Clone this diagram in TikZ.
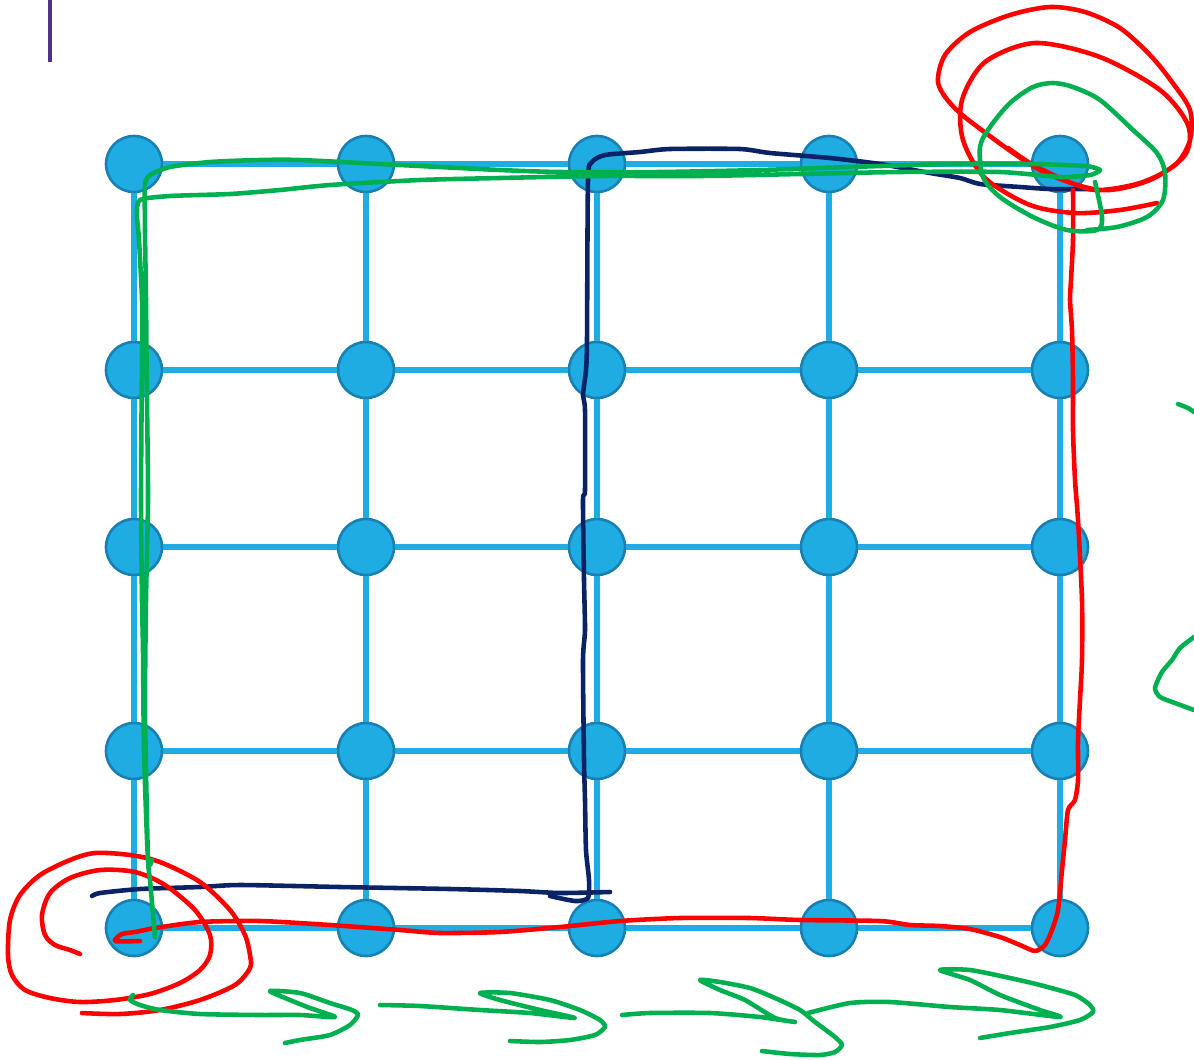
\documentclass[tikz,border=0pt]{standalone}
\definecolor{gridblue}{HTML}{1EACE2}
\definecolor{rimblue}{HTML}{1A80B4}
\definecolor{penred}{HTML}{FF0000}
\definecolor{pengreen}{HTML}{00B050}
\definecolor{pennavy}{HTML}{0A2266}
\definecolor{penpurple}{HTML}{4E3188}
\tikzset{
	dot/.style={circle, fill=gridblue, draw=rimblue, line width=1.5pt, minimum size=1.12cm, inner sep=0pt},
	edge/.style={gridblue, line width=3.7pt},
	pen/.style={line width=2.6pt, line cap=round, line join=round},
}
\begin{document}
\begin{tikzpicture}[x=0.02cm, y=-0.02cm]
\useasboundingbox (0,0) rectangle (1194,1059);
% grid of dots
\foreach \j / \y in {1/164, 2/370, 3/547, 4/751, 5/928}
{
	\foreach \i / \x in {1/134, 2/366, 3/597, 4/829, 5/1060}
	{
		\node[dot] (n\i\j) at (\x, \y) {};
	}
}
\foreach \j in {1,...,5}
{
	\foreach \i / \k in {1/2, 2/3, 3/4, 4/5}
	{
		\draw[edge] (n\i\j) -- (n\k\j);
		\draw[edge] (n\j\i) -- (n\j\k);
	}
}
% purple mark
\draw[penpurple, line width=2.4pt] (50,0) -- (50,62);
% navy stroke
\draw[pen, pennavy] plot[smooth, tension=0.4] coordinates {(92,896) (100,893) (140,889) (200,887) (240,885) (340,887) (450,889) (520,891) (560,893) (610,892)};
\draw[pen, pennavy] plot[smooth, tension=0.4] coordinates {(550,896) (575,901) (588,898) (589,880) (586,850) (585,800) (584,760) (583,660) (585,630) (584,580) (583,500) (585,490) (585,410) (583,395) (586,370) (587,340) (588,180) (592,162) (605,155) (640,152) (670,149) (740,149) (770,153) (830,158) (880,164) (930,173) (960,178) (980,184) (1020,187) (1050,189) (1090,189)};
% red strokes
\draw[pen, penred] plot[smooth, tension=0.5] coordinates {(80,954) (70,950) (55,945) (45,935) (42,915) (50,893) (70,878) (100,870) (135,872) (165,885) (195,910) (210,935) (210,955) (200,970) (180,983) (150,994) (115,1000) (80,1002) (50,998) (25,990) (12,975) (8,955) (10,920) (20,895) (40,875) (70,860) (95,853) (130,855) (160,862) (200,882) (230,910) (245,935) (250,955) (250,968) (235,985) (200,1000) (160,1010) (120,1014) (82,1013)};
\draw[pen, penred] plot[smooth, tension=0.4] coordinates {(140,941) (115,941) (122,934) (135,932) (155,928) (200,922) (260,921) (330,925) (400,930) (440,933) (500,932) (560,927) (620,921) (680,918) (750,918) (800,920) (880,921) (910,925) (940,926) (970,929) (1000,937) (1020,945) (1035,951) (1045,945) (1052,930) (1058,910) (1062,870) (1065,840) (1068,810) (1075,800) (1078,780) (1078,740) (1080,700) (1082,660) (1082,600) (1078,520) (1075,480) (1073,430) (1073,380) (1072,330) (1070,300) (1071,280) (1073,240) (1073,190)};
\draw[pen, penred] plot[smooth, tension=0.5] coordinates {(1008,148) (1030,163) (1060,178) (1095,190) (1140,183) (1175,165) (1190,140) (1190,110) (1172,82) (1150,55) (1120,28) (1085,12) (1050,7) (1010,15) (970,32) (945,55) (938,82) (950,103) (975,125) (1040,170) (1100,190) (1150,180) (1185,155) (1188,125) (1160,90) (1100,57) (1035,43) (985,62) (962,100) (963,140) (985,178) (1030,205) (1075,213) (1120,210) (1157,203)};
% green strokes
\draw[pen, pengreen] plot[smooth, tension=0.4] coordinates {(155,937) (150,880) (148,860) (146,770) (145,700) (146,600) (148,500) (147,400) (146,300) (145,230) (145,185) (150,175) (170,167) (210,162) (260,160) (300,160) (400,165) (500,170) (560,172) (660,172) (760,170) (850,167) (950,164) (1030,164) (1085,166) (1100,170) (1090,175) (1060,177) (1000,172) (900,172) (800,174) (700,176) (600,176) (500,178) (420,180) (330,185) (280,190) (230,194) (170,196) (140,200) (137,215) (139,240) (142,300) (142,350) (141,500) (142,600) (143,650) (144,750) (148,860) (152,860)};
\draw[pen, pengreen] plot[smooth, tension=0.5] coordinates {(1095,182) (1102,217) (1097,230) (1067,230) (1033,217) (1000,197) (983,177) (980,147) (990,127) (1010,103) (1033,87) (1053,83) (1073,87) (1100,100) (1133,130) (1157,153) (1165,173) (1163,200) (1147,217) (1117,227) (1087,230)};
\draw[pen, pengreen] plot[smooth, tension=0.4] coordinates {(133,995) (130,1000) (140,1005) (160,1010) (200,1014) (260,1015) (300,1015) (335,1017) (310,1008) (290,1000) (270,991) (300,993) (330,1003) (352,1010) (358,1015) (350,1025) (330,1035) (300,1040) (285,1043)};
\draw[pen, pengreen] plot[smooth, tension=0.4] coordinates {(380,1005) (420,1006) (480,1010) (530,1013) (575,1018) (540,1010) (500,1000) (480,993) (510,993) (550,1000) (580,1010) (600,1020) (605,1027) (595,1035) (570,1040) (540,1042) (510,1041)};
\draw[pen, pengreen] plot[smooth, tension=0.4] coordinates {(622,1015) (650,1013) (710,1013) (760,1017) (795,1022) (775,1018) (745,1000) (720,990) (700,980) (720,982) (750,988) (775,998) (800,1010) (815,1022) (835,1037) (842,1045) (835,1052) (820,1055) (790,1054) (762,1051)};
\draw[pen, pengreen] plot[smooth, tension=0.4] coordinates {(808,1013) (850,1003) (890,1002) (950,1007) (1000,1010) (1060,1017) (1040,1010) (1000,995) (970,980) (940,970) (970,970) (1010,978) (1040,985) (1075,995) (1090,1005) (1093,1012) (1080,1020) (1050,1027) (1010,1033) (980,1038)};
\draw[pen, pengreen] plot[smooth, tension=0.4] coordinates {(1178,404) (1188,408) (1194,412)};
\draw[pen, pengreen] plot[smooth, tension=0.4] coordinates {(1194,637) (1180,648) (1172,660) (1162,672) (1155,688) (1160,697) (1175,703) (1194,710)};
\end{tikzpicture}
\end{document}
